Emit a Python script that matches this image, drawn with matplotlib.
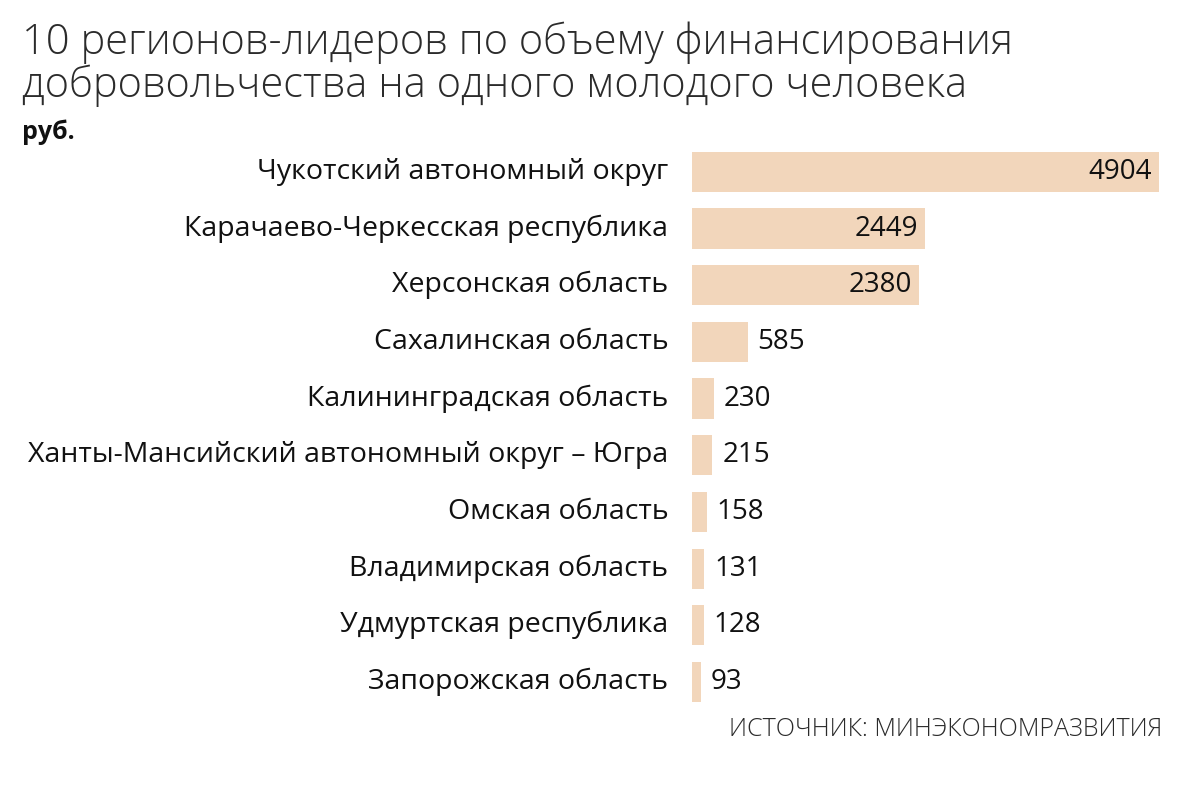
import matplotlib
matplotlib.use("Agg")
import matplotlib.pyplot as plt

regions = [
    "Чукотский автономный округ",
    "Карачаево-Черкесская республика",
    "Херсонская область",
    "Сахалинская область",
    "Калининградская область",
    "Ханты-Мансийский автономный округ – Югра",
    "Омская область",
    "Владимирская область",
    "Удмуртская республика",
    "Запорожская область",
]
values = [4904, 2449, 2380, 585, 230, 215, 158, 131, 128, 93]

title = "10 регионов-лидеров по объему финансирования\nдобровольчества на одного молодого человека"
unit = "руб."
source = "ИСТОЧНИК: МИНЭКОНОМРАЗВИТИЯ"

plt.rcParams['font.family'] = ['Open Sans', 'DejaVu Sans']

W, H = 1200, 785
fig = plt.figure(figsize=(W/100, H/100), dpi=100)
ax = fig.add_axes([692/W, 1 - 710.3/H, 467/W, 566.7/H])

bar_color = "#f2d6bb"
ypos = list(range(len(values)))
ax.barh(ypos, values, height=0.71, color=bar_color, edgecolor="none")
ax.set_xlim(0, max(values))
ax.set_ylim(len(values) - 0.5, -0.5)
ax.axis("off")

for y, (name, v) in enumerate(zip(regions, values)):
    ax.annotate(name, xy=(0, y), xytext=(-17, 0), textcoords="offset points",
                ha="right", va="center", fontsize=20.5, color="#111111")
    if v > 1000:
        ax.annotate(f"{v}", xy=(v, y), xytext=(-5, 0), textcoords="offset points",
                    ha="right", va="center", fontsize=20, color="#111111")
    else:
        ax.annotate(f"{v}", xy=(v, y), xytext=(7, 0), textcoords="offset points",
                    ha="left", va="center", fontsize=20, color="#111111")

fig.text(22/W, 1 - 22/H, title, ha="left", va="top", fontsize=30, fontweight="light",
         color="#2b2b2b", linespacing=1.0)
fig.text(22/W, 1 - 132/H, unit, ha="left", va="center", fontsize=18, fontweight="bold",
         color="#111111")
fig.text(1162/W, 1 - 730/H, source, ha="right", va="center", fontsize=18, fontweight="light",
         color="#2b2b2b")

fig.savefig("out.png", dpi=100, facecolor="white")
